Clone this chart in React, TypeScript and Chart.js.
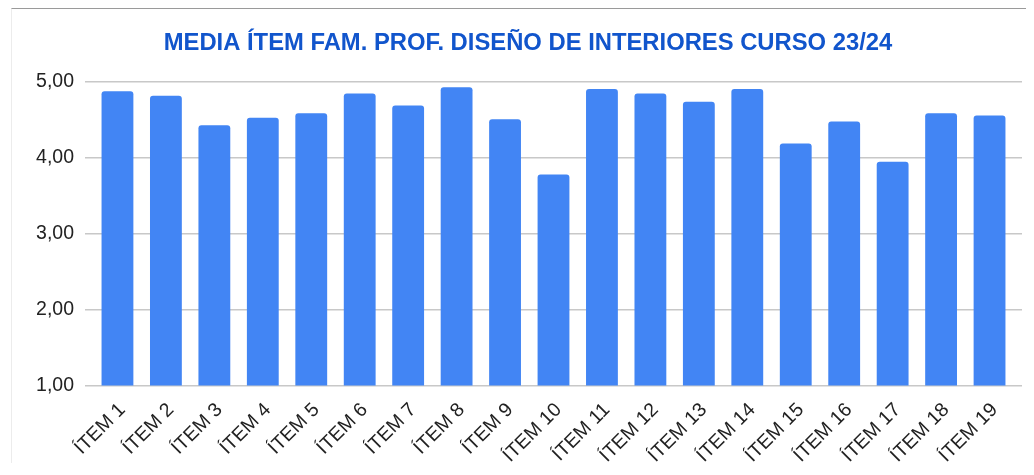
import React, { useEffect, useRef } from "react";
import { Chart, registerables } from "chart.js";

Chart.register(...registerables);

const TITLE = "MEDIA ÍTEM FAM. PROF. DISEÑO DE INTERIORES CURSO 23/24";
const LABELS = [
  "ÍTEM 1", "ÍTEM 2", "ÍTEM 3", "ÍTEM 4", "ÍTEM 5", "ÍTEM 6", "ÍTEM 7",
  "ÍTEM 8", "ÍTEM 9", "ÍTEM 10", "ÍTEM 11", "ÍTEM 12", "ÍTEM 13", "ÍTEM 14",
  "ÍTEM 15", "ÍTEM 16", "ÍTEM 17", "ÍTEM 18", "ÍTEM 19",
];
const VALUES = [
  4.88, 4.82, 4.43, 4.53, 4.59, 4.85, 4.69, 4.93, 4.51, 3.78,
  4.91, 4.85, 4.74, 4.91, 4.19, 4.48, 3.95, 4.59, 4.56,
];
const Y_MIN = 1;
const Y_MAX = 5;
const Y_STEP = 1;

const FONT = '"Liberation Sans", Arial, sans-serif';
const CANVAS_H = 462;

export default function App() {
  const ref = useRef<HTMLCanvasElement | null>(null);

  useEffect(() => {
    if (!ref.current) return;
    const points = VALUES.map((v, i) => ({ x: i + 1, y: v }));
    const chart = new Chart(ref.current, {
      type: "bar",
      data: {
        datasets: [
          {
            data: points as any,
            backgroundColor: "#4285F4",
            borderWidth: 0,
            borderRadius: 3,
            borderSkipped: "start",
            categoryPercentage: 1,
            barPercentage: 0.657,
          },
        ],
      },
      options: {
        animation: false,
        responsive: false,
        devicePixelRatio: 1,
        layout: { padding: { left: 22, right: 12, top: 0, bottom: 0 } },
        plugins: {
          legend: { display: false },
          tooltip: { enabled: false },
          title: {
            display: true,
            text: TITLE,
            color: "#1155cc",
            font: { family: FONT, size: 23.8, weight: "bold" },
            padding: { top: 20, bottom: 24.5 },
          },
        },
        scales: {
          x: {
            type: "linear",
            min: 0.33,
            max: LABELS.length + 0.67,
            offset: false,
            grid: { display: false, offset: false },
            border: { display: false },
            afterFit: (s: any) => {
              s.height = CANVAS_H - 376.5;
            },
            ticks: {
              stepSize: 1,
              includeBounds: false,
              autoSkip: false,
              maxTicksLimit: 40,
              minRotation: 45,
              maxRotation: 45,
              padding: 5,
              labelOffset: 5,
              color: "#222222",
              font: { family: FONT, size: 19.5 },
              callback: (v: any) => LABELS[Number(v) - 1] ?? "",
            },
          },
          y: {
            min: Y_MIN,
            max: Y_MAX,
            beginAtZero: false,
            grid: { color: "#c8c8c8", lineWidth: 1.5, drawTicks: false },
            border: { display: false },
            afterFit: (s: any) => {
              s.width = 51;
            },
            ticks: {
              stepSize: Y_STEP,
              padding: 11,
              color: "#222222",
              font: { family: FONT, size: 19.5 },
              callback: (v: any) => Number(v).toFixed(2).replace(".", ","),
            },
          },
        },
      },
    });
    return () => chart.destroy();
  }, []);

  return (
    <div
      style={{
        marginLeft: 3,
        marginBottom: -8,
        width: 1022,
        height: CANVAS_H,
        borderTop: "1px solid #9a9a9a",
        borderLeft: "1px solid #ececec",
        background: "#ffffff",
      }}
    >
      <canvas ref={ref} width={1022} height={CANVAS_H} style={{ display: "block" }} />
    </div>
  );
}
